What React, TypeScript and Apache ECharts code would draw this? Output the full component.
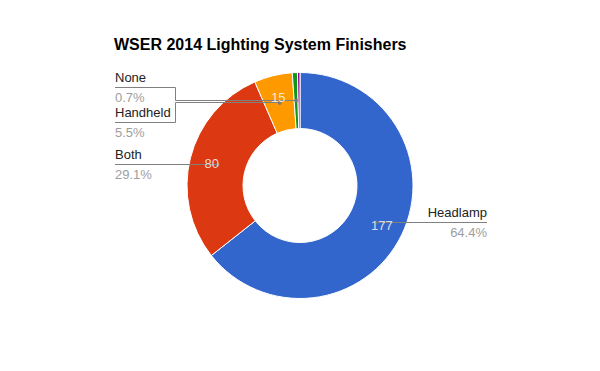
import React, { useEffect, useRef } from 'react';
import * as echarts from 'echarts';

const chartTitle = 'WSER 2014 Lighting System Finishers';
const categories = ['Headlamp', 'Both', 'Handheld', 'None', 'Other'];
const finishers = [177, 80, 15, 2, 1];
const sliceColors = ['#3366cc', '#dc3912', '#ff9900', '#109618', '#990099'];
const labeled = [true, true, true, true, false];
const valueShown = [true, true, true, false, false];

const CX = 300;
const CY = 185.5;
const R = 113;
const R0 = 57;
const DOT_R = (R + R0) / 2;
const VALUE_R = 91;
const LEFT_X = 115;
const RIGHT_X = 487;
const ELBOW = 60;
const SLOT = 35;
const CLUSTER_SHIFT = 3;
const FONT = "'Liberation Sans', Arial, sans-serif";

const total = finishers.reduce((a, b) => a + b, 0);
const midValues = finishers.map(
  (v, i) => finishers.slice(0, i).reduce((a, b) => a + b, 0) + v / 2
);
const pct = (v: number) => ((v / total) * 100).toFixed(1) + '%';

function dotPoint(i: number): [number, number] {
  const t = (midValues[i] / total) * 2 * Math.PI;
  return [CX + DOT_R * Math.sin(t), CY - DOT_R * Math.cos(t)];
}

function computeSlots(): Record<number, number> {
  const res: Record<number, number> = {};
  const sides: { i: number; y: number }[][] = [[], []];
  categories.forEach((_, i) => {
    if (!labeled[i]) return;
    const [x, y] = dotPoint(i);
    sides[x < CX ? 0 : 1].push({ i, y });
  });
  for (const side of sides) {
    side.sort((a, b) => a.y - b.y);
    let groups = side.map((s) => ({ items: [s], center: s.y }));
    let merged = true;
    while (merged) {
      merged = false;
      for (let k = 0; k < groups.length - 1; k++) {
        const g1 = groups[k];
        const g2 = groups[k + 1];
        const bottom1 = g1.center + ((g1.items.length - 1) * SLOT) / 2;
        const top2 = g2.center - ((g2.items.length - 1) * SLOT) / 2;
        if (top2 - bottom1 < SLOT) {
          const items = [...g1.items, ...g2.items];
          const center = items.reduce((a, s) => a + s.y, 0) / items.length + CLUSTER_SHIFT;
          groups.splice(k, 2, { items, center });
          merged = true;
          break;
        }
      }
    }
    groups.forEach((g) =>
      g.items.forEach((s, j) => {
        res[s.i] = g.center + (j - (g.items.length - 1) / 2) * SLOT;
      })
    );
  }
  return res;
}

const slotY = computeSlots();
const crisp = (y: number) => Math.round(y - 0.5) + 0.5;

export default function App() {
  const ref = useRef<HTMLDivElement>(null);
  useEffect(() => {
    if (!ref.current) return;
    const chart = echarts.init(ref.current, null, { renderer: 'svg' });
    const pieData = categories.map((name, i) => ({ name, value: finishers[i] }));
    const option: any = {
      animation: false,
      backgroundColor: '#fff',
      title: {
        text: chartTitle,
        left: 114,
        top: 36,
        padding: 0,
        textStyle: { fontFamily: FONT, fontSize: 16, fontWeight: 'bold', color: '#000' },
      },
      polar: { center: [CX, CY], radius: R },
      angleAxis: {
        type: 'value', min: 0, max: total, startAngle: 90, clockwise: true,
        show: false, splitLine: { show: false },
      },
      radiusAxis: { type: 'value', min: 0, max: R, show: false, splitLine: { show: false } },
      series: [
        {
          type: 'pie',
          center: [CX, CY],
          radius: [R0, R],
          startAngle: 90,
          clockwise: true,
          silent: true,
          z: 2,
          itemStyle: { borderColor: '#fff', borderWidth: 1 },
          label: { show: false },
          labelLine: { show: false },
          data: pieData.map((d, i) => ({ ...d, itemStyle: { color: sliceColors[i] } })),
        },
        {
          type: 'pie',
          center: [CX, CY],
          radius: [R0, R],
          startAngle: 90,
          clockwise: true,
          silent: true,
          z: 3,
          itemStyle: { color: 'rgba(0,0,0,0)', borderWidth: 0 },
          data: pieData.map((d, i) => ({
            ...d,
            label: { show: labeled[i] },
            labelLine: { show: labeled[i] },
          })),
          label: {
            show: true,
            position: 'outside',
            fontFamily: FONT,
            formatter: (p: any) => `{n|${p.name}}\n{p|${pct(p.value)}}`,
            rich: {
              n: { fontFamily: FONT, fontSize: 13, color: '#222', lineHeight: 20 },
              p: { fontFamily: FONT, fontSize: 13, color: '#9e9e9e', lineHeight: 20 },
            },
          },
          labelLine: { show: true, lineStyle: { color: '#808080', width: 1 } },
          labelLayout: (p: any) => {
            const i = p.dataIndex;
            if (!labeled[i]) return {};
            const [dx, dyRaw] = dotPoint(i);
            const dy = crisp(dyRaw);
            const left = dx < CX;
            const sy = crisp(slotY[i]);
            const ex = left ? LEFT_X : RIGHT_X;
            let pts: number[][];
            if (Math.abs(sy - dy) < 1) {
              pts = [[dx, dy], [ex, dy]];
            } else {
              const bx = (left ? LEFT_X + ELBOW : RIGHT_X - ELBOW) + 0.5;
              pts = [[dx, dy], [bx, dy], [bx, sy], [ex, sy]];
            }
            return {
              x: ex,
              y: sy,
              align: left ? 'left' : 'right',
              verticalAlign: 'middle',
              labelLinePoints: pts,
            };
          },
        },
        {
          type: 'scatter',
          coordinateSystem: 'polar',
          silent: true,
          symbol: 'circle',
          symbolSize: 4,
          itemStyle: { color: '#777' },
          data: categories
            .map((_, i) => (labeled[i] ? [DOT_R, midValues[i]] : null))
            .filter((d) => d !== null),
          z: 4,
        },
        {
          type: 'scatter',
          coordinateSystem: 'polar',
          silent: true,
          symbolSize: 0,
          data: categories
            .map((_, i) =>
              valueShown[i] ? { name: String(finishers[i]), value: [VALUE_R, midValues[i]] } : null
            )
            .filter((d) => d !== null),
          label: {
            show: true,
            position: 'inside',
            formatter: '{b}',
            fontFamily: FONT,
            fontSize: 13,
            color: '#fff',
          },
          z: 5,
        },
      ],
    };
    chart.setOption(option);
    return () => chart.dispose();
  }, []);
  return (
    <div
      ref={ref}
      style={{ position: 'fixed', left: 0, top: 0, width: 600, height: 371, background: '#fff' }}
    />
  );
}
